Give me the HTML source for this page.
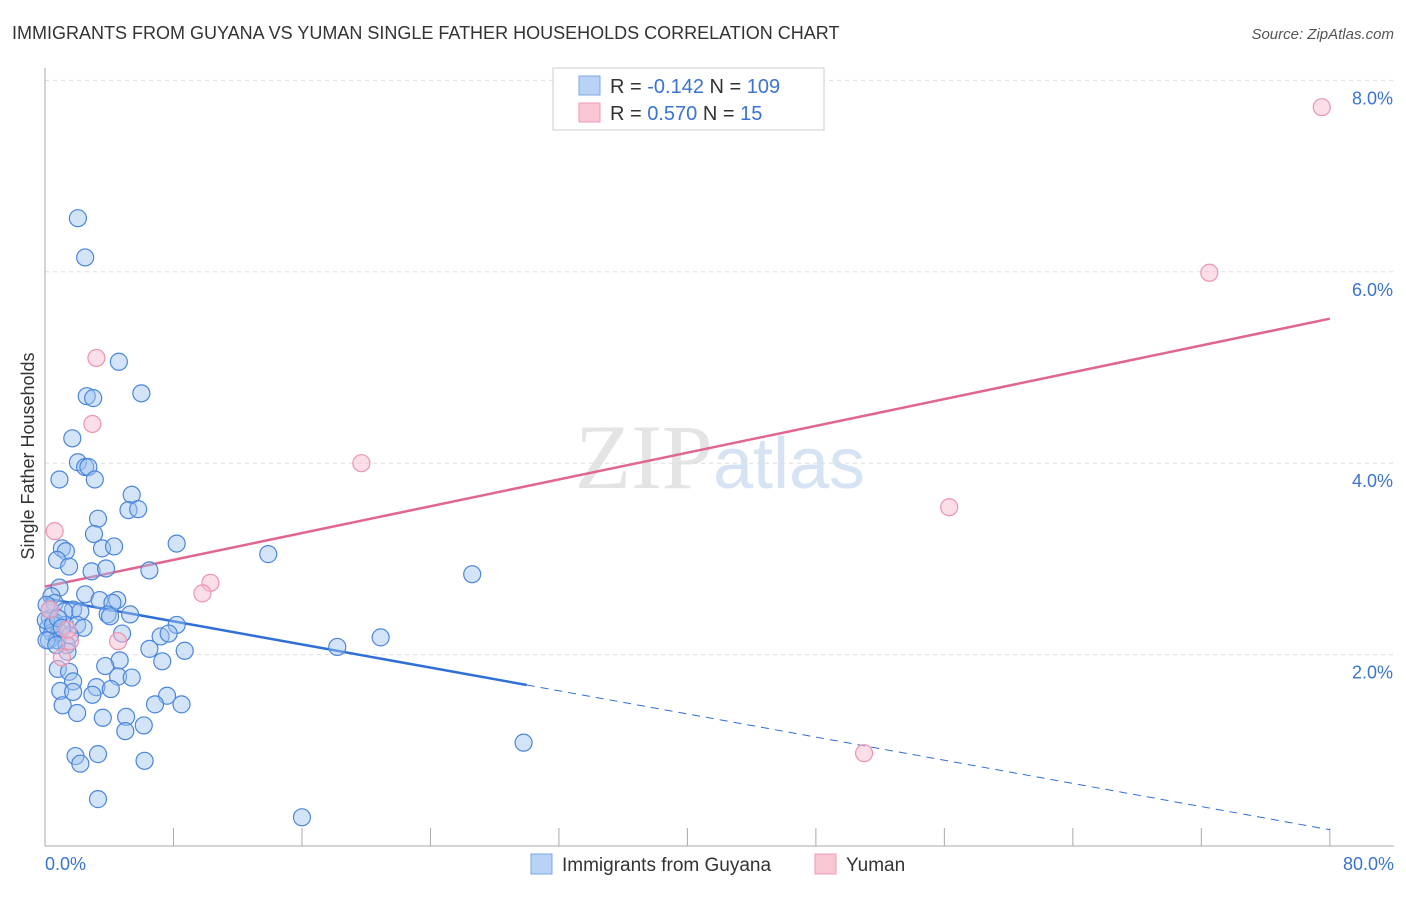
<!DOCTYPE html>
<html><head><meta charset="utf-8"><style>
body{margin:0;background:#fff;font-family:"Liberation Sans",sans-serif}
</style></head><body>
<svg id="chart" width="1406" height="892" xmlns="http://www.w3.org/2000/svg" font-family="Liberation Sans, sans-serif">
<text x="12" y="39" font-size="18" fill="#333">IMMIGRANTS FROM GUYANA VS YUMAN SINGLE FATHER HOUSEHOLDS CORRELATION CHART</text>
<text x="1394" y="39" font-size="15" font-style="italic" fill="#555" text-anchor="end">Source: ZipAtlas.com</text>
<text x="720" y="488" font-size="92" text-anchor="middle" fill="#e4e4e4" font-family="Liberation Serif, serif">ZIP<tspan fill="#d6e3f3" font-family="Liberation Sans, sans-serif" font-size="72">atlas</tspan></text>
<text transform="translate(34,456) rotate(-90)" font-size="18" fill="#333" text-anchor="middle">Single Father Households</text>
<g id="grid"></g><g id="axes"></g><g id="lines"></g><g id="pts"></g>
<g>
<rect x="553" y="68" width="271" height="62" fill="#fff" stroke="#ccc"/>
<rect x="579" y="76" width="21" height="19" fill="#b8d3f5" stroke="#7aa9e6"/>
<rect x="579" y="103" width="21" height="19" fill="#f9c6d4" stroke="#f09ab3"/>
<text x="610" y="93" font-size="20" fill="#333">R = <tspan fill="#3a74d0">-0.142</tspan>   N = <tspan fill="#3a74d0">109</tspan></text>
<text x="610" y="120" font-size="20" fill="#333">R =  <tspan fill="#3a74d0">0.570</tspan>   N =   <tspan fill="#3a74d0">15</tspan></text>
</g>
<g>
<rect x="531" y="854" width="21" height="20" fill="#b8d3f5" stroke="#7aa9e6"/>
<text x="562" y="871" font-size="19" fill="#333">Immigrants from Guyana</text>
<rect x="815" y="854" width="21" height="20" fill="#f9c6d4" stroke="#f09ab3"/>
<text x="846" y="871" font-size="19" fill="#333">Yuman</text>
</g>
</svg>
<script>
const yTicks=[2,4,6,8];
const yTickLabels=["2.0%","4.0%","6.0%","8.0%"];
const xEndLabels=["0.0%","80.0%"];
const blueX=[2.05,2.5,4.6,6.0,2.6,3.0,1.7,2.05,2.5,2.7,0.9,3.1,5.4,5.2,5.8,3.3,3.05,1.05,1.3,3.55,4.3,8.2,13.9,0.75,1.5,2.9,3.8,6.5,26.6,0.9,0.4,2.5,3.4,4.5,4.2,0.6,1.75,1.2,2.2,3.9,5.3,4.05,0.3,0.6,1.25,2.0,2.4,8.2,0.2,0.45,0.9,1.55,4.8,7.2,7.7,20.9,0.25,0.75,1.35,6.5,18.2,8.7,1.4,4.65,7.3,3.75,0.8,1.5,4.55,5.4,1.75,3.2,4.1,0.95,1.75,2.95,7.6,6.85,8.5,1.1,2.0,3.6,5.05,6.15,5.0,1.9,3.3,2.2,6.2,29.8,3.3,16.0,0.1,0.05,0.1,0.3,0.5,0.8,1.05,0.7];
const blueY=[6.56,6.15,5.06,4.73,4.70,4.68,4.26,4.01,3.96,3.96,3.83,3.83,3.67,3.51,3.52,3.42,3.26,3.11,3.08,3.11,3.13,3.16,3.05,2.99,2.92,2.87,2.9,2.88,2.84,2.70,2.61,2.63,2.57,2.57,2.54,2.54,2.47,2.45,2.45,2.42,2.42,2.4,2.38,2.34,2.31,2.31,2.28,2.31,2.28,2.23,2.23,2.2,2.22,2.19,2.22,2.18,2.15,2.15,2.1,2.06,2.08,2.04,2.03,1.94,1.93,1.88,1.85,1.82,1.77,1.76,1.72,1.66,1.64,1.62,1.61,1.58,1.57,1.48,1.48,1.47,1.39,1.34,1.35,1.26,1.2,0.94,0.96,0.86,0.89,1.08,0.49,0.30,2.52,2.36,2.15,2.47,2.31,2.38,2.28,2.1];
const pinkX=[79.5,72.5,56.3,19.7,3.2,2.95,0.6,10.3,9.8,4.55,51.0,1.55,1.05,0.3,1.4];
const pinkY=[7.72,5.99,3.54,4.0,5.1,4.41,3.29,2.75,2.64,2.14,0.97,2.14,1.97,2.47,2.26];
const blueTrend=[2.59,0.17]; // y at x=0, y at x=80
const pinkTrend=[2.71,5.51];
const blueSolidEnd=30;
const NS="http://www.w3.org/2000/svg";
const X=v=>45+v*16.06, Y=v=>846-v*95.7;
function mk(t,a,p){const e=document.createElementNS(NS,t);for(const k in a)e.setAttribute(k,a[k]);p.appendChild(e);return e;}
const grid=document.getElementById('grid'),axes=document.getElementById('axes'),lines=document.getElementById('lines'),pts=document.getElementById('pts');
yTicks.forEach((t,i)=>{
 const g=mk('line',{x1:45,x2:1394,y1:Y(t),y2:Y(t),stroke:'#ddd','stroke-dasharray':'4,4'},grid);
 
 
 const l=mk('text',{x:1393,y:Y(t)+24,'font-size':18,fill:'#3a74d0','text-anchor':'end'},axes);
 l.textContent=yTickLabels[i];
 
 
});
const ax=mk('line',{x1:45,x2:45,y1:68,y2:846,stroke:'#aaa'},axes);


const bx=mk('line',{x1:45,x2:1394,y1:846,y2:846,stroke:'#aaa'},axes);


for(let i=1;i<=10;i++){const t=mk('line',{x1:X(i*8),x2:X(i*8),y1:828,y2:846,stroke:'#aaa'},axes);
 
 }
[[0,'start',45],[80,'end',1394]].forEach((d,i)=>{const l=mk('text',{x:d[2],y:870,'font-size':18,fill:'#3a74d0','text-anchor':d[1]},axes);l.textContent=xEndLabels[i];
 
 });
const by=x=>blueTrend[0]+(blueTrend[1]-blueTrend[0])*x/80;
const b1=mk('line',{x1:X(0),y1:Y(by(0)),x2:X(blueSolidEnd),y2:Y(by(blueSolidEnd)),stroke:'#2f6fd6','stroke-width':2.5},lines);


const b2=mk('line',{x1:X(blueSolidEnd),y1:Y(by(blueSolidEnd)),x2:X(80),y2:Y(by(80)),stroke:'#2f6fd6','stroke-width':1,'stroke-dasharray':'8,6'},lines);


const p1=mk('line',{x1:X(0),y1:Y(pinkTrend[0]),x2:X(80),y2:Y(pinkTrend[1]),stroke:'#e06690','stroke-width':2.5},lines);


blueX.forEach((x,i)=>{const c=mk('circle',{cx:X(x),cy:Y(blueY[i]),r:8.5,fill:'rgba(160,195,240,0.45)',stroke:'#4a86dc','stroke-width':1.2},pts);
 
 });
pinkX.forEach((x,i)=>{const c=mk('circle',{cx:X(x),cy:Y(pinkY[i]),r:8.5,fill:'rgba(248,190,208,0.5)',stroke:'#ee93b0','stroke-width':1.2},pts);
 
 });
</script>
</body></html>
